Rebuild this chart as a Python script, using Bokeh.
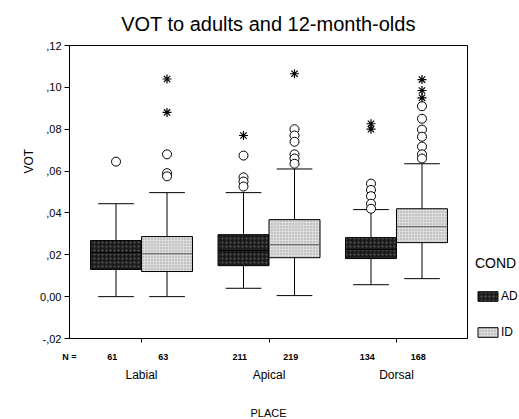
import math
from bokeh.plotting import figure
from bokeh.models import Legend, LegendItem, FixedTicker, Range1d, LinearAxis, Title
from bokeh.embed import file_html
from bokeh.resources import INLINE

# ---------------- data ----------------
places = ["Labial", "Apical", "Dorsal"]
conds = ["AD", "ID"]
n_counts = [61, 63, 211, 219, 134, 168]          # order: Labial AD, Labial ID, Apical AD, ...
q1 = [0.0130, 0.0120, 0.0148, 0.0186, 0.0182, 0.0258]
med = [0.0210, 0.0205, 0.0220, 0.0248, 0.0225, 0.0334]
q3 = [0.0268, 0.0287, 0.0296, 0.0368, 0.0282, 0.0420]
whisk_lo = [0.0000, 0.0000, 0.0040, 0.0005, 0.0057, 0.0086]
whisk_hi = [0.0444, 0.0497, 0.0497, 0.0610, 0.0416, 0.0635]

# outliers (box index, value)
circle_box = [0, 1, 1, 1, 2, 2, 2, 2, 3, 3, 3, 3, 3, 3, 4, 4, 4, 4, 4, 5, 5, 5, 5, 5, 5, 5]
circle_val = [0.0645, 0.0680, 0.0590, 0.0575, 0.0674, 0.0570, 0.0550, 0.0526,
              0.0800, 0.0770, 0.0740, 0.0680, 0.0660, 0.0635,
              0.0540, 0.0510, 0.0480, 0.0444, 0.0420,
              0.0910, 0.0850, 0.0798, 0.0764, 0.0717, 0.0680, 0.0660]
star_box = [1, 1, 2, 3, 4, 4, 5, 5, 5]
star_val = [0.1040, 0.0880, 0.0770, 0.1065, 0.0826, 0.0800, 0.1037, 0.0985, 0.0950]

y_ticks = [-0.02, 0.0, 0.02, 0.04, 0.06, 0.08, 0.10, 0.12]
y_tick_labels = ["-,02", "0,00", ",02", ",04", ",06", ",08", ",10", ",12"]

# ---------------- layout ----------------
FONT = "Liberation Sans"
XMIN, XMAX = -0.065, 3.057
YMIN, YMAX = -0.02, 0.12
BOX_W = 0.4
CAP_W = 0.28

box_x = [i // 2 + 0.5 + (-0.2 if i % 2 == 0 else 0.2) for i in range(6)]
cat_x = [0.5, 1.5, 2.5]
fills = ["#1c1c1c", "#dcdcdc"]
hatch_cols = ["#5a5a5a", "#9a9a9a"]
med_cols = ["#000000" if i % 2 == 0 else "#555555" for i in range(6)]

p = figure(frame_width=398, frame_height=293, output_backend="svg", toolbar_location=None,
           x_range=Range1d(XMIN, XMAX), y_range=Range1d(YMIN, YMAX),
           min_border_left=69, min_border_right=52, min_border_top=44, min_border_bottom=82)
p.background_fill_color = "white"
p.border_fill_color = "white"
p.outline_line_color = "black"
p.outline_line_width = 1
p.grid.visible = False

# title
p.title.text = "VOT to adults and 12-month-olds"
p.title.align = "center"
p.title.text_font = FONT
p.title.text_font_size = "20px"
p.title.text_font_style = "normal"
p.title.text_color = "black"
p.title.standoff = 21

# whiskers
p.segment(x0=box_x, y0=q3, x1=box_x, y1=whisk_hi, line_color="black", line_width=1)
p.segment(x0=box_x, y0=q1, x1=box_x, y1=whisk_lo, line_color="black", line_width=1)
p.segment(x0=[x - CAP_W / 2 for x in box_x], y0=whisk_hi,
          x1=[x + CAP_W / 2 for x in box_x], y1=whisk_hi, line_color="black", line_width=1)
p.segment(x0=[x - CAP_W / 2 for x in box_x], y0=whisk_lo,
          x1=[x + CAP_W / 2 for x in box_x], y1=whisk_lo, line_color="black", line_width=1)

# boxes
r_ad = p.vbar(x=box_x[0::2], width=BOX_W, bottom=q1[0::2], top=q3[0::2],
              fill_color=fills[0], line_color="black", line_width=1,
              hatch_pattern="dot", hatch_color=hatch_cols[0], hatch_scale=4, hatch_weight=1)
r_id = p.vbar(x=box_x[1::2], width=BOX_W, bottom=q1[1::2], top=q3[1::2],
              fill_color=fills[1], line_color="black", line_width=1,
              hatch_pattern="dot", hatch_color=hatch_cols[1], hatch_scale=3, hatch_weight=1)
p.segment(x0=[x - BOX_W / 2 for x in box_x], y0=med,
          x1=[x + BOX_W / 2 for x in box_x], y1=med, line_color=med_cols, line_width=1)

# outliers
p.scatter(x=[box_x[b] for b in circle_box], y=circle_val, marker="circle", size=9,
          fill_color="white", line_color="black", line_width=1)
p.scatter(x=[box_x[b] for b in star_box], y=star_val, marker="asterisk", size=9,
          line_color="black", line_width=1.2)

# y axis
p.yaxis.ticker = FixedTicker(ticks=y_ticks)
p.yaxis.major_label_overrides = {t: l for t, l in zip(y_ticks, y_tick_labels)}
p.yaxis.major_label_text_font = FONT
p.yaxis.major_label_text_font_size = "11px"
p.yaxis.major_label_text_color = "black"
p.yaxis.major_tick_out = 5
p.yaxis.major_tick_in = 0
p.yaxis.minor_tick_out = 0
p.yaxis.minor_tick_in = 0
p.yaxis.major_label_standoff = 3
p.yaxis.axis_line_color = "black"
p.yaxis.major_tick_line_color = "black"

# VOT as a side title so it can sit above the frame's centre like the reference
p.add_layout(Title(text="VOT", align="left", offset=165, text_font=FONT,
                   text_font_size="12px", text_font_style="normal", text_color="black",
                   standoff=3), "left")

# x axis 1: line + ticks at the category centres
p.xaxis.ticker = FixedTicker(ticks=cat_x)
p.xaxis.major_label_text_font_size = "0px"
p.xaxis.major_label_standoff = 0
p.xaxis.major_tick_out = 4
p.xaxis.major_tick_in = 0
p.xaxis.minor_tick_out = 0
p.xaxis.minor_tick_in = 0
p.xaxis.axis_line_color = "black"
p.xaxis.major_tick_line_color = "black"

# x axis 2: N counts
n_ticks = [XMIN] + [round(x - 0.03, 3) for x in box_x]
n_labels = ["N ="] + [str(n) for n in n_counts]
ax_n = LinearAxis(ticker=FixedTicker(ticks=n_ticks),
                  major_label_overrides={t: l for t, l in zip(n_ticks, n_labels)})
ax_n.axis_line_color = None
ax_n.major_tick_line_color = None
ax_n.minor_tick_line_color = None
ax_n.major_tick_out = 0
ax_n.major_tick_in = 0
ax_n.major_label_standoff = 9
ax_n.major_label_text_font = FONT
ax_n.major_label_text_font_size = "9px"
ax_n.major_label_text_font_style = "bold"
ax_n.major_label_text_color = "black"
p.add_layout(ax_n, "below")

# x axis 3: place names + axis title
ax_c = LinearAxis(ticker=FixedTicker(ticks=cat_x),
                  major_label_overrides={t: l for t, l in zip(cat_x, places)})
ax_c.axis_line_color = None
ax_c.major_tick_line_color = None
ax_c.minor_tick_line_color = None
ax_c.major_tick_out = 0
ax_c.major_tick_in = 0
ax_c.major_label_standoff = 3
ax_c.major_label_text_font = FONT
ax_c.major_label_text_font_size = "12px"
ax_c.major_label_text_color = "black"
ax_c.axis_label = "PLACE"
ax_c.axis_label_text_font = FONT
ax_c.axis_label_text_font_size = "11px"
ax_c.axis_label_text_font_style = "normal"
ax_c.axis_label_text_color = "black"
ax_c.axis_label_standoff = 22
p.add_layout(ax_c, "below")

# legend
legend = Legend(items=[LegendItem(label=conds[0], renderers=[r_ad]),
                       LegendItem(label=conds[1], renderers=[r_id])],
                title="COND", location=(8, -1), orientation="vertical")
legend.padding = 0
legend.margin = 0
legend.border_line_alpha = 0
legend.background_fill_alpha = 0
legend.title_text_font = FONT
legend.title_text_font_size = "14px"
legend.title_text_font_style = "normal"
legend.title_text_color = "black"
legend.title_standoff = 18
legend.label_text_font = FONT
legend.label_text_font_size = "12px"
legend.label_text_color = "black"
legend.glyph_width = 25
legend.glyph_height = 12
legend.label_standoff = 1
legend.label_height = 13
legend.spacing = 22
p.add_layout(legend, "right")

open("out.html", "w").write(file_html(p, INLINE))
